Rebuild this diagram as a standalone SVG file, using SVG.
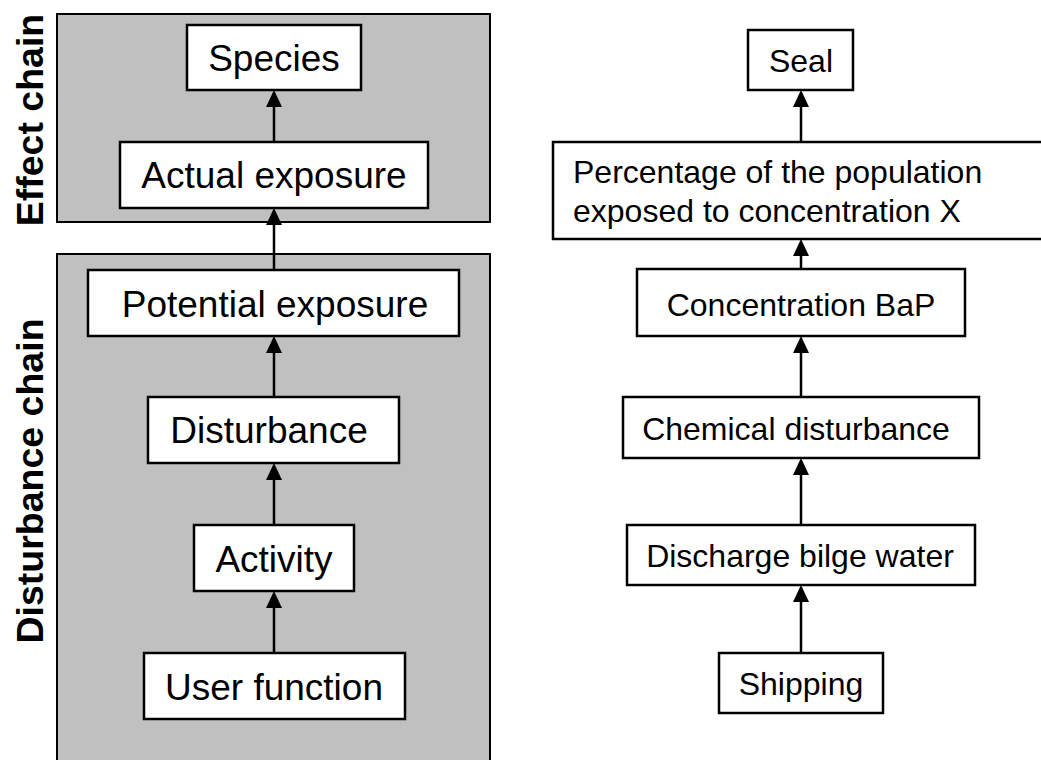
<svg xmlns="http://www.w3.org/2000/svg" width="1041" height="760" viewBox="0 0 1041 760">
<style>
.panel{fill:#c0c0c0;stroke:#000;stroke-width:2}
.box{fill:#fff;stroke:#000;stroke-width:2.5}
.lt{font-family:"Liberation Sans",Arial,sans-serif;font-size:37px;fill:#000;text-anchor:middle}
.rt{font-family:"Liberation Sans",Arial,sans-serif;font-size:32px;fill:#000;text-anchor:middle}
.side{font-family:"Liberation Sans",Arial,sans-serif;font-size:37.5px;font-weight:bold;fill:#000;text-anchor:middle}
.conn line{stroke:#000;stroke-width:2.5;marker-end:url(#ah)}
</style>
<defs>
<marker id="ah" markerUnits="userSpaceOnUse" markerWidth="17" markerHeight="16" refX="13" refY="8" orient="auto">
<path d="M0,0 L17,8 L0,16 Z" fill="#000"/>
</marker>
</defs>
<rect width="1041" height="760" fill="#fff"/>
<g id="effect-chain-panel">
<rect class="panel" x="57" y="14" width="433" height="208"/>
<text class="side" transform="translate(43,120) rotate(-90)">Effect chain</text>
</g>
<g id="disturbance-chain-panel">
<rect class="panel" x="57" y="254" width="433" height="520"/>
<text class="side" transform="translate(43,481) rotate(-90)">Disturbance chain</text>
</g>
<g id="species"><rect class="box" x="187" y="25" width="174" height="65"/><text class="lt" x="274" y="71">Species</text></g>
<g id="actual-exposure"><rect class="box" x="120" y="142" width="308" height="66"/><text class="lt" x="274" y="188">Actual exposure</text></g>
<g id="potential-exposure"><rect class="box" x="88" y="270" width="371" height="66"/><text class="lt" x="275" y="317">Potential exposure</text></g>
<g id="disturbance"><rect class="box" x="148" y="397" width="251" height="66"/><text class="lt" x="269" y="443">Disturbance</text></g>
<g id="activity"><rect class="box" x="194" y="525" width="160" height="66"/><text class="lt" x="274" y="572">Activity</text></g>
<g id="user-function"><rect class="box" x="144" y="653" width="261" height="66"/><text class="lt" x="274" y="700">User function</text></g>

<g id="seal"><rect class="box" x="748" y="30" width="105" height="60"/><text class="rt" x="801" y="72">Seal</text></g>
<g id="percentage"><rect class="box" x="553" y="142" width="492" height="97"/><text class="rt" style="text-anchor:start" x="573" y="183">Percentage of the population</text><text class="rt" style="text-anchor:start" x="573" y="222">exposed to concentration X</text></g>
<g id="concentration-bap"><rect class="box" x="637" y="269" width="328" height="67"/><text class="rt" x="801" y="316">Concentration BaP</text></g>
<g id="chemical-disturbance"><rect class="box" x="623" y="397" width="356" height="61"/><text class="rt" x="796" y="440">Chemical disturbance</text></g>
<g id="discharge-bilge-water"><rect class="box" x="627" y="525" width="348" height="60"/><text class="rt" x="800" y="567">Discharge bilge water</text></g>
<g id="shipping"><rect class="box" x="719" y="653" width="164" height="60"/><text class="rt" x="801" y="695">Shipping</text></g>

<g id="connectors" class="conn">
<line x1="274" y1="142" x2="274" y2="94"/>
<line x1="274" y1="270" x2="274" y2="212"/>
<line x1="274" y1="397" x2="274" y2="340"/>
<line x1="274" y1="525" x2="274" y2="467"/>
<line x1="274" y1="653" x2="274" y2="595"/>
<line x1="801" y1="142" x2="801" y2="94"/>
<line x1="801" y1="269" x2="801" y2="243"/>
<line x1="801" y1="397" x2="801" y2="340"/>
<line x1="801" y1="525" x2="801" y2="462"/>
<line x1="801" y1="653" x2="801" y2="589"/>
</g>
</svg>
